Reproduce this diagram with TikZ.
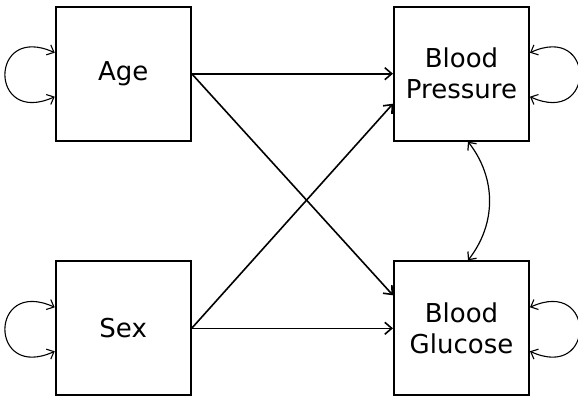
\documentclass[tikz,border=0pt]{standalone}
\usepackage{fontspec}
\setmainfont{DejaVu Sans}
\usetikzlibrary{arrows.meta,calc}

\tikzset{
  var/.style={draw, line width=2pt, minimum width=135pt, minimum height=134pt,
    inner sep=0pt, align=center, font=\fontsize{26}{31}\selectfont},
  path/.style={line width=1.6pt, -{Straight Barb[length=7pt,width=12pt]}},
  selfloop/.style={line width=1.1pt, {Straight Barb[length=6pt,width=11pt]}-{Straight Barb[length=6pt,width=11pt]}},
  covar/.style={line width=1.2pt, {Straight Barb[length=6pt,width=11pt]}-{Straight Barb[length=6pt,width=11pt]}}
}

\begin{document}
\begin{tikzpicture}[x=1pt, y=-1pt]
  \useasboundingbox (0,0) rectangle (578,396);

  \node[var] (age) at (123.2,73.7) {Age};
  \node[var] (sex) at (123.2,328.3) {Sex};
  \node[var] (bp)  at (461.5,73.7) {Blood\\Pressure};
  \node[var] (bg)  at (461.5,328.3) {Blood\\Glucose};

  % regression paths
  \draw[path] (age.east) -- (bp.west);
  \draw[path] (age.east) -- ($(bg.west)+(0,-33)$);
  \draw[path] (sex.east) -- (bg.west);
  \draw[path] (sex.east) -- ($(bp.west)+(0,30)$);

  % residual variances
  \draw[selfloop] ($(age.west)+(0,-21)$) .. controls +(-66,-30) and +(-66,30) .. ($(age.west)+(0,23)$);
  \draw[selfloop] ($(sex.west)+(0,-21)$) .. controls +(-66,-30) and +(-66,30) .. ($(sex.west)+(0,23)$);
  \draw[selfloop] ($(bp.east)+(0,-21)$) .. controls +(66,-30) and +(66,30) .. ($(bp.east)+(0,23)$);
  \draw[selfloop] ($(bg.east)+(0,-21)$) .. controls +(66,-30) and +(66,30) .. ($(bg.east)+(0,23)$);

  % residual covariance
  \draw[covar] ($(bp.south)+(6.5,0)$) to[bend left=38] ($(bg.north)+(6.5,0)$);
\end{tikzpicture}
\end{document}
